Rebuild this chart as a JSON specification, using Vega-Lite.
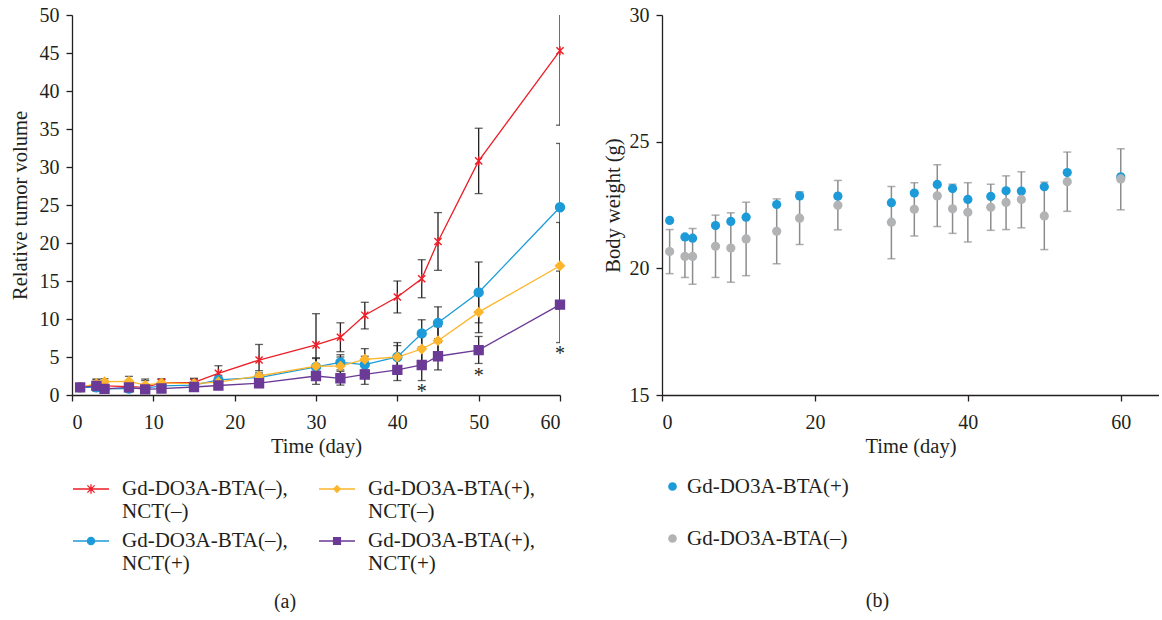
{
  "$schema": "https://vega.github.io/schema/vega-lite/v6.json",
  "padding": {"left": 10, "top": 5, "right": 0, "bottom": 0},
  "datasets": {
    "tumor": [
      {"day": 1, "s": "Gd-DO3A-BTA(–), NCT(–)", "v": 1.0, "lo": 0.7, "hi": 1.3},
      {"day": 3, "s": "Gd-DO3A-BTA(–), NCT(–)", "v": 1.3, "lo": 0.6, "hi": 2.0},
      {"day": 4, "s": "Gd-DO3A-BTA(–), NCT(–)", "v": 1.2, "lo": 0.7, "hi": 1.7},
      {"day": 7, "s": "Gd-DO3A-BTA(–), NCT(–)", "v": 1.1, "lo": 0.6, "hi": 1.6},
      {"day": 9, "s": "Gd-DO3A-BTA(–), NCT(–)", "v": 1.0, "lo": 0.3, "hi": 1.9},
      {"day": 11, "s": "Gd-DO3A-BTA(–), NCT(–)", "v": 1.6, "lo": 1.1, "hi": 2.1},
      {"day": 15, "s": "Gd-DO3A-BTA(–), NCT(–)", "v": 1.65, "lo": 1.1, "hi": 2.2},
      {"day": 18, "s": "Gd-DO3A-BTA(–), NCT(–)", "v": 2.85, "lo": 1.85, "hi": 3.85},
      {"day": 23, "s": "Gd-DO3A-BTA(–), NCT(–)", "v": 4.6, "lo": 2.55, "hi": 6.65},
      {"day": 30, "s": "Gd-DO3A-BTA(–), NCT(–)", "v": 6.6, "lo": 2.5, "hi": 10.7},
      {"day": 33, "s": "Gd-DO3A-BTA(–), NCT(–)", "v": 7.6, "lo": 5.7, "hi": 9.5},
      {"day": 36, "s": "Gd-DO3A-BTA(–), NCT(–)", "v": 10.5, "lo": 8.7, "hi": 12.2},
      {"day": 40, "s": "Gd-DO3A-BTA(–), NCT(–)", "v": 12.9, "lo": 10.8, "hi": 15.0},
      {"day": 43, "s": "Gd-DO3A-BTA(–), NCT(–)", "v": 15.3, "lo": 12.8, "hi": 17.8},
      {"day": 45, "s": "Gd-DO3A-BTA(–), NCT(–)", "v": 20.2, "lo": 16.4, "hi": 24.0},
      {"day": 50, "s": "Gd-DO3A-BTA(–), NCT(–)", "v": 30.8, "lo": 26.5, "hi": 35.1},
      {"day": 60, "s": "Gd-DO3A-BTA(–), NCT(–)", "v": 45.3, "lo": 35.5, "hi": 55.1},
      {"day": 1, "s": "Gd-DO3A-BTA(–), NCT(+)", "v": 1.0, "lo": 0.8, "hi": 1.2},
      {"day": 3, "s": "Gd-DO3A-BTA(–), NCT(+)", "v": 1.0, "lo": 0.5, "hi": 1.6},
      {"day": 4, "s": "Gd-DO3A-BTA(–), NCT(+)", "v": 0.8, "lo": 0.4, "hi": 1.2},
      {"day": 7, "s": "Gd-DO3A-BTA(–), NCT(+)", "v": 0.85, "lo": 0.4, "hi": 1.3},
      {"day": 9, "s": "Gd-DO3A-BTA(–), NCT(+)", "v": 0.9, "lo": 0.5, "hi": 1.3},
      {"day": 11, "s": "Gd-DO3A-BTA(–), NCT(+)", "v": 1.2, "lo": 0.8, "hi": 1.6},
      {"day": 15, "s": "Gd-DO3A-BTA(–), NCT(+)", "v": 1.3, "lo": 0.9, "hi": 1.7},
      {"day": 18, "s": "Gd-DO3A-BTA(–), NCT(+)", "v": 2.0, "lo": 1.4, "hi": 2.6},
      {"day": 23, "s": "Gd-DO3A-BTA(–), NCT(+)", "v": 2.3, "lo": 1.7, "hi": 2.9},
      {"day": 30, "s": "Gd-DO3A-BTA(–), NCT(+)", "v": 3.7, "lo": 2.5, "hi": 4.9},
      {"day": 33, "s": "Gd-DO3A-BTA(–), NCT(+)", "v": 4.3, "lo": 3.3, "hi": 5.3},
      {"day": 36, "s": "Gd-DO3A-BTA(–), NCT(+)", "v": 4.0, "lo": 2.9, "hi": 5.1},
      {"day": 40, "s": "Gd-DO3A-BTA(–), NCT(+)", "v": 5.0, "lo": 3.2, "hi": 6.9},
      {"day": 43, "s": "Gd-DO3A-BTA(–), NCT(+)", "v": 8.1, "lo": 6.3, "hi": 9.9},
      {"day": 45, "s": "Gd-DO3A-BTA(–), NCT(+)", "v": 9.5, "lo": 7.4, "hi": 11.6},
      {"day": 50, "s": "Gd-DO3A-BTA(–), NCT(+)", "v": 13.5, "lo": 9.5, "hi": 17.5},
      {"day": 60, "s": "Gd-DO3A-BTA(–), NCT(+)", "v": 24.7, "lo": 16.3, "hi": 33.1},
      {"day": 1, "s": "Gd-DO3A-BTA(+), NCT(–)", "v": 1.0, "lo": 0.8, "hi": 1.2},
      {"day": 3, "s": "Gd-DO3A-BTA(+), NCT(–)", "v": 1.5, "lo": 0.9, "hi": 2.1},
      {"day": 4, "s": "Gd-DO3A-BTA(+), NCT(–)", "v": 1.75, "lo": 1.35, "hi": 2.15},
      {"day": 7, "s": "Gd-DO3A-BTA(+), NCT(–)", "v": 1.8, "lo": 1.2, "hi": 2.45},
      {"day": 9, "s": "Gd-DO3A-BTA(+), NCT(–)", "v": 1.3, "lo": 0.6, "hi": 2.1},
      {"day": 11, "s": "Gd-DO3A-BTA(+), NCT(–)", "v": 1.6, "lo": 1.1, "hi": 2.1},
      {"day": 15, "s": "Gd-DO3A-BTA(+), NCT(–)", "v": 1.5, "lo": 0.9, "hi": 2.1},
      {"day": 18, "s": "Gd-DO3A-BTA(+), NCT(–)", "v": 1.7, "lo": 1.1, "hi": 2.3},
      {"day": 23, "s": "Gd-DO3A-BTA(+), NCT(–)", "v": 2.5, "lo": 1.8, "hi": 3.2},
      {"day": 30, "s": "Gd-DO3A-BTA(+), NCT(–)", "v": 3.8, "lo": 2.8, "hi": 4.8},
      {"day": 33, "s": "Gd-DO3A-BTA(+), NCT(–)", "v": 3.8, "lo": 2.6, "hi": 5.0},
      {"day": 36, "s": "Gd-DO3A-BTA(+), NCT(–)", "v": 4.7, "lo": 3.3, "hi": 6.1},
      {"day": 40, "s": "Gd-DO3A-BTA(+), NCT(–)", "v": 5.0, "lo": 3.6, "hi": 6.5},
      {"day": 43, "s": "Gd-DO3A-BTA(+), NCT(–)", "v": 6.05, "lo": 4.3, "hi": 7.8},
      {"day": 45, "s": "Gd-DO3A-BTA(+), NCT(–)", "v": 7.15, "lo": 5.3, "hi": 9.0},
      {"day": 50, "s": "Gd-DO3A-BTA(+), NCT(–)", "v": 10.9, "lo": 8.2, "hi": 13.6},
      {"day": 60, "s": "Gd-DO3A-BTA(+), NCT(–)", "v": 17.0, "lo": 11.3, "hi": 22.7},
      {"day": 1, "s": "Gd-DO3A-BTA(+), NCT(+)", "v": 1.0, "lo": 0.8, "hi": 1.2},
      {"day": 3, "s": "Gd-DO3A-BTA(+), NCT(+)", "v": 1.2, "lo": 0.7, "hi": 1.7},
      {"day": 4, "s": "Gd-DO3A-BTA(+), NCT(+)", "v": 0.8, "lo": 0.4, "hi": 1.2},
      {"day": 7, "s": "Gd-DO3A-BTA(+), NCT(+)", "v": 1.0, "lo": 0.5, "hi": 1.5},
      {"day": 9, "s": "Gd-DO3A-BTA(+), NCT(+)", "v": 0.75, "lo": 0.3, "hi": 1.2},
      {"day": 11, "s": "Gd-DO3A-BTA(+), NCT(+)", "v": 0.85, "lo": 0.4, "hi": 1.3},
      {"day": 15, "s": "Gd-DO3A-BTA(+), NCT(+)", "v": 1.05, "lo": 0.6, "hi": 1.5},
      {"day": 18, "s": "Gd-DO3A-BTA(+), NCT(+)", "v": 1.25, "lo": 0.8, "hi": 1.7},
      {"day": 23, "s": "Gd-DO3A-BTA(+), NCT(+)", "v": 1.55, "lo": 1.0, "hi": 2.1},
      {"day": 30, "s": "Gd-DO3A-BTA(+), NCT(+)", "v": 2.5, "lo": 1.4, "hi": 3.6},
      {"day": 33, "s": "Gd-DO3A-BTA(+), NCT(+)", "v": 2.2, "lo": 1.3, "hi": 3.1},
      {"day": 36, "s": "Gd-DO3A-BTA(+), NCT(+)", "v": 2.7, "lo": 1.4, "hi": 4.0},
      {"day": 40, "s": "Gd-DO3A-BTA(+), NCT(+)", "v": 3.3, "lo": 1.9, "hi": 4.7},
      {"day": 43, "s": "Gd-DO3A-BTA(+), NCT(+)", "v": 3.95, "lo": 1.9, "hi": 6.0},
      {"day": 45, "s": "Gd-DO3A-BTA(+), NCT(+)", "v": 5.1, "lo": 3.3, "hi": 6.9},
      {"day": 50, "s": "Gd-DO3A-BTA(+), NCT(+)", "v": 5.9, "lo": 4.15, "hi": 7.7},
      {"day": 60, "s": "Gd-DO3A-BTA(+), NCT(+)", "v": 11.9, "lo": 6.9, "hi": 16.9}
    ],
    "stars": [
      {"day": 43, "y": 0.88},
      {"day": 50, "y": 3.07},
      {"day": 60, "y": 5.92}
    ],
    "weight": [
      {"day": 1, "g": "Gd-DO3A-BTA(+)", "w": 21.89},
      {"day": 3, "g": "Gd-DO3A-BTA(+)", "w": 21.24},
      {"day": 4, "g": "Gd-DO3A-BTA(+)", "w": 21.19},
      {"day": 7, "g": "Gd-DO3A-BTA(+)", "w": 21.69},
      {"day": 9, "g": "Gd-DO3A-BTA(+)", "w": 21.85},
      {"day": 11, "g": "Gd-DO3A-BTA(+)", "w": 22.02},
      {"day": 15, "g": "Gd-DO3A-BTA(+)", "w": 22.52},
      {"day": 18, "g": "Gd-DO3A-BTA(+)", "w": 22.86},
      {"day": 23, "g": "Gd-DO3A-BTA(+)", "w": 22.85},
      {"day": 30, "g": "Gd-DO3A-BTA(+)", "w": 22.59},
      {"day": 33, "g": "Gd-DO3A-BTA(+)", "w": 22.97},
      {"day": 36, "g": "Gd-DO3A-BTA(+)", "w": 23.31},
      {"day": 38, "g": "Gd-DO3A-BTA(+)", "w": 23.15},
      {"day": 40, "g": "Gd-DO3A-BTA(+)", "w": 22.72},
      {"day": 43, "g": "Gd-DO3A-BTA(+)", "w": 22.84},
      {"day": 45, "g": "Gd-DO3A-BTA(+)", "w": 23.06},
      {"day": 47, "g": "Gd-DO3A-BTA(+)", "w": 23.05},
      {"day": 50, "g": "Gd-DO3A-BTA(+)", "w": 23.22},
      {"day": 53, "g": "Gd-DO3A-BTA(+)", "w": 23.78},
      {"day": 60, "g": "Gd-DO3A-BTA(+)", "w": 23.61},
      {"day": 1, "g": "Gd-DO3A-BTA(–)", "w": 20.66, "lo": 19.79, "hi": 21.53},
      {"day": 3, "g": "Gd-DO3A-BTA(–)", "w": 20.47, "lo": 19.64, "hi": 21.30},
      {"day": 4, "g": "Gd-DO3A-BTA(–)", "w": 20.47, "lo": 19.37, "hi": 21.57},
      {"day": 7, "g": "Gd-DO3A-BTA(–)", "w": 20.87, "lo": 19.64, "hi": 22.10},
      {"day": 9, "g": "Gd-DO3A-BTA(–)", "w": 20.80, "lo": 19.45, "hi": 22.19},
      {"day": 11, "g": "Gd-DO3A-BTA(–)", "w": 21.16, "lo": 19.71, "hi": 22.61},
      {"day": 15, "g": "Gd-DO3A-BTA(–)", "w": 21.46, "lo": 20.18, "hi": 22.74},
      {"day": 18, "g": "Gd-DO3A-BTA(–)", "w": 21.98, "lo": 20.94, "hi": 23.02},
      {"day": 23, "g": "Gd-DO3A-BTA(–)", "w": 22.49, "lo": 21.52, "hi": 23.47},
      {"day": 30, "g": "Gd-DO3A-BTA(–)", "w": 21.82, "lo": 20.38, "hi": 23.23},
      {"day": 33, "g": "Gd-DO3A-BTA(–)", "w": 22.33, "lo": 21.28, "hi": 23.38},
      {"day": 36, "g": "Gd-DO3A-BTA(–)", "w": 22.86, "lo": 21.65, "hi": 24.09},
      {"day": 38, "g": "Gd-DO3A-BTA(–)", "w": 22.35, "lo": 21.38, "hi": 23.32},
      {"day": 40, "g": "Gd-DO3A-BTA(–)", "w": 22.21, "lo": 21.04, "hi": 23.38},
      {"day": 43, "g": "Gd-DO3A-BTA(–)", "w": 22.41, "lo": 21.50, "hi": 23.32},
      {"day": 45, "g": "Gd-DO3A-BTA(–)", "w": 22.60, "lo": 21.53, "hi": 23.65},
      {"day": 47, "g": "Gd-DO3A-BTA(–)", "w": 22.72, "lo": 21.60, "hi": 23.81},
      {"day": 50, "g": "Gd-DO3A-BTA(–)", "w": 22.07, "lo": 20.74, "hi": 23.40},
      {"day": 53, "g": "Gd-DO3A-BTA(–)", "w": 23.42, "lo": 22.25, "hi": 24.59},
      {"day": 60, "g": "Gd-DO3A-BTA(–)", "w": 23.53, "lo": 22.31, "hi": 24.72}
    ]
  },
  "spacing": 35,
  "resolve": {"scale": {"color": "independent"}, "legend": {"color": "independent"}},
  "hconcat": [
    {
      "width": 488,
      "height": 380,
      "title": {"text": "(a)", "orient": "bottom", "anchor": "middle", "dx": -31, "offset": 18},
      "encoding": {
        "x": {"field": "day", "type": "quantitative", "scale": {"domain": [0, 60], "nice": false},
              "axis": {"values": [0, 10, 20, 30, 40, 50, 60], "tickCount": 7, "title": "Time (day)", "labelPadding": 11, "titlePadding": 4, "labelOverlap": false}}
      },
      "layer": [
        {
          "data": {"name": "tumor"},
          "layer": [
            {
              "mark": {"type": "rule", "color": "#231F20", "strokeWidth": 1.3, "clip": true},
              "encoding": {
                "y": {"field": "lo", "type": "quantitative", "scale": {"domain": [0, 50], "nice": false},
                      "axis": {"values": [0, 5, 10, 15, 20, 25, 30, 35, 40, 45, 50], "tickCount": 11, "title": "Relative tumor volume", "labelPadding": 7, "titlePadding": 9, "labelOverlap": false}},
                "y2": {"field": "hi"}
              }
            },
            {
              "mark": {"type": "tick", "orient": "horizontal", "color": "#231F20", "size": 8, "thickness": 1.3, "clip": true},
              "encoding": {
                "y": {"field": "lo", "type": "quantitative"}
              }
            },
            {
              "mark": {"type": "tick", "orient": "horizontal", "color": "#231F20", "size": 8, "thickness": 1.3, "clip": true},
              "encoding": {
                "y": {"field": "hi", "type": "quantitative"}
              }
            },
            {
              "mark": {"type": "line", "strokeWidth": 1.3},
              "encoding": {
                "y": {"field": "v", "type": "quantitative"},
                "color": {"field": "s", "type": "nominal", "legend": null,
                          "scale": {"domain": ["Gd-DO3A-BTA(–), NCT(–)", "Gd-DO3A-BTA(+), NCT(–)", "Gd-DO3A-BTA(–), NCT(+)", "Gd-DO3A-BTA(+), NCT(+)"],
                                    "range": ["#EC1E27", "#FDB52B", "#1C9BD8", "#6B3A96"]}}
              }
            },
            {
              "mark": {"type": "point", "filled": true, "size": 80, "strokeWidth": 1.4, "opacity": 1},
              "encoding": {
                "y": {"field": "v", "type": "quantitative"},
                "color": {"field": "s", "type": "nominal", "legend": null},
                "stroke": {"field": "s", "type": "nominal", "legend": null,
                          "scale": {"domain": ["Gd-DO3A-BTA(–), NCT(–)", "Gd-DO3A-BTA(+), NCT(–)", "Gd-DO3A-BTA(–), NCT(+)", "Gd-DO3A-BTA(+), NCT(+)"],
                                    "range": ["#EC1E27", "#FDB52B", "#1C9BD8", "#6B3A96"]}},
                "shape": {"field": "s", "type": "nominal", "legend": null,
                          "scale": {"domain": ["Gd-DO3A-BTA(–), NCT(–)", "Gd-DO3A-BTA(+), NCT(–)", "Gd-DO3A-BTA(–), NCT(+)", "Gd-DO3A-BTA(+), NCT(+)"],
                                    "range": ["M-0.8,-0.8L0.8,0.8M-0.8,0.8L0.8,-0.8M0,-1L0,1", "diamond", "circle", "square"]}}
              }
            }
          ]
        },
        {
          "data": {"name": "stars"},
          "mark": {"type": "text", "text": "*", "fontSize": 20, "baseline": "alphabetic", "dy": 10, "color": "#231F20", "font": "Liberation Serif"},
          "encoding": {
            "y": {"field": "y", "type": "quantitative",
                  "axis": {"values": [0, 5, 10, 15, 20, 25, 30, 35, 40, 45, 50], "tickCount": 11, "title": "Relative tumor volume", "labelPadding": 7, "titlePadding": 9, "labelOverlap": false}}
          }
        },
        {
          "data": {"name": "tumor"},
          "transform": [{"filter": "false"}],
          "mark": {"type": "point", "filled": true, "opacity": 1},
          "encoding": {
            "x": {"field": "day", "type": "quantitative"},
            "fill": {"field": "s", "type": "nominal",
                     "scale": {"domain": ["Gd-DO3A-BTA(–), NCT(–)", "Gd-DO3A-BTA(+), NCT(–)", "Gd-DO3A-BTA(–), NCT(+)", "Gd-DO3A-BTA(+), NCT(+)"],
                               "range": ["#EC1E27", "#FDB52B", "#1C9BD8", "#6B3A96"]},
                     "legend": {"orient": "bottom", "direction": "horizontal", "columns": 2, "title": null,
                                "symbolSize": 1296, "symbolStrokeWidth": 1.3, "symbolOpacity": 1, "labelExpr": "split(datum.label, ' ')",
                                "labelFontSize": 21, "labelOffset": 12, "columnPadding": 28, "rowPadding": 0, "labelLimit": 400, "offset": 13}},
            "stroke": {"field": "s", "type": "nominal",
                     "scale": {"domain": ["Gd-DO3A-BTA(–), NCT(–)", "Gd-DO3A-BTA(+), NCT(–)", "Gd-DO3A-BTA(–), NCT(+)", "Gd-DO3A-BTA(+), NCT(+)"],
                               "range": ["#EC1E27", "#FDB52B", "#1C9BD8", "#6B3A96"]},
                     "legend": {"orient": "bottom", "direction": "horizontal", "columns": 2, "title": null,
                                "symbolSize": 1296, "symbolStrokeWidth": 1.3, "symbolOpacity": 1, "labelExpr": "split(datum.label, ' ')",
                                "labelFontSize": 21, "labelOffset": 12, "columnPadding": 28, "rowPadding": 0, "labelLimit": 400, "offset": 13}},
            "shape": {"field": "s", "type": "nominal",
                     "scale": {"domain": ["Gd-DO3A-BTA(–), NCT(–)", "Gd-DO3A-BTA(+), NCT(–)", "Gd-DO3A-BTA(–), NCT(+)", "Gd-DO3A-BTA(+), NCT(+)"],
                               "range": ["M-1,0L1,0M-0.2,-0.2L0.2,0.2M-0.2,0.2L0.2,-0.2M0,-0.26L0,0.26",
                                         "M-1,0L1,0M0,-0.18L0.18,0L0,0.18L-0.18,0Z",
                                         "M-1,0L1,0M-0.2,0A0.2,0.2,0,1,0,0.2,0A0.2,0.2,0,1,0,-0.2,0Z",
                                         "M-1,0L1,0M-0.19,-0.19L0.19,-0.19L0.19,0.19L-0.19,0.19Z"]},
                     "legend": {"orient": "bottom", "direction": "horizontal", "columns": 2, "title": null,
                                "symbolSize": 1296, "symbolStrokeWidth": 1.3, "symbolOpacity": 1, "labelExpr": "split(datum.label, ' ')",
                                "labelFontSize": 21, "labelOffset": 12, "columnPadding": 28, "rowPadding": 0, "labelLimit": 400, "offset": 13}}
          }
        }
      ],
      "resolve": {"scale": {"shape": "independent", "fill": "independent", "stroke": "independent", "color": "independent"}}
    },
    {
      "width": 497,
      "height": 380,
      "title": {"text": "(b)", "orient": "bottom", "anchor": "middle", "dx": -33, "offset": 42},
      "data": {"name": "weight"},
      "layer": [
        {
          "transform": [{"filter": "isValid(datum.lo)"}],
          "mark": {"type": "rule", "color": "#8A8C8E", "strokeWidth": 1.5},
          "encoding": {
            "x": {"field": "day", "type": "quantitative", "scale": {"domain": [0, 65], "nice": false},
                  "axis": {"values": [0, 20, 40, 60], "title": "Time (day)", "labelPadding": 11, "titlePadding": 4}},
            "y": {"field": "lo", "type": "quantitative", "scale": {"domain": [15, 30], "nice": false, "zero": false},
                  "axis": {"values": [15, 20, 25, 30], "title": "Body weight (g)", "labelPadding": 7, "titlePadding": 6}},
            "y2": {"field": "hi"}
          }
        },
        {
          "transform": [{"filter": "isValid(datum.lo)"}],
          "mark": {"type": "tick", "orient": "horizontal", "color": "#8A8C8E", "size": 8, "thickness": 1.5},
          "encoding": {
            "x": {"field": "day", "type": "quantitative"},
            "y": {"field": "lo", "type": "quantitative"}
          }
        },
        {
          "transform": [{"filter": "isValid(datum.hi)"}],
          "mark": {"type": "tick", "orient": "horizontal", "color": "#8A8C8E", "size": 8, "thickness": 1.5},
          "encoding": {
            "x": {"field": "day", "type": "quantitative"},
            "y": {"field": "hi", "type": "quantitative"}
          }
        },
        {
          "mark": {"type": "point", "filled": true, "size": 85, "opacity": 1},
          "encoding": {
            "x": {"field": "day", "type": "quantitative"},
            "y": {"field": "w", "type": "quantitative"},
            "color": {"field": "g", "type": "nominal",
                      "scale": {"domain": ["Gd-DO3A-BTA(+)", "Gd-DO3A-BTA(–)"], "range": ["#1C9BD8", "#B2B3B5"]},
                      "legend": {"orient": "bottom", "direction": "vertical", "title": null, "symbolType": "circle",
                                 "symbolSize": 75, "symbolOpacity": 1, "labelFontSize": 21, "labelOffset": 4, "labelLimit": 400, "rowPadding": 30, "offset": 19}}
          }
        }
      ]
    }
  ],
  "config": {
    "view": {"stroke": null},
    "font": "Liberation Serif",
    "axis": {
      "grid": false, "domainColor": "#231F20", "tickColor": "#231F20", "labelColor": "#231F20", "titleColor": "#231F20",
      "labelFont": "Liberation Serif", "titleFont": "Liberation Serif", "labelFontSize": 20, "titleFontSize": 20.5,
      "titleFontWeight": "normal", "tickSize": 6, "domainWidth": 1.3, "tickWidth": 1.3, "labelOverlap": false
    },
    "legend": {"labelFont": "Liberation Serif", "labelColor": "#231F20"},
    "title": {"font": "Liberation Serif", "fontSize": 20, "fontWeight": "normal", "color": "#231F20"}
  }
}
